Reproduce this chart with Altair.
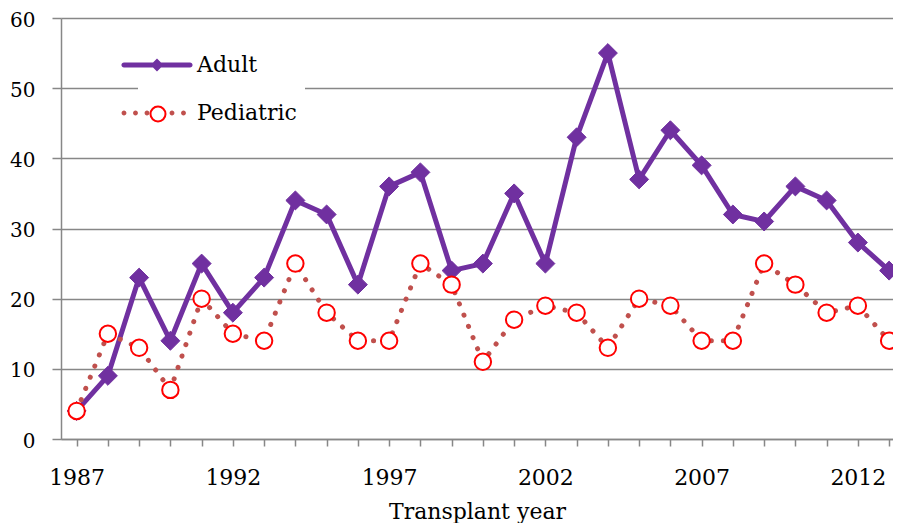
import altair as alt
import pandas as pd

# ---- data ----
years = list(range(1987, 2014))
adult = [4, 9, 23, 14, 25, 18, 23, 34, 32, 22, 36, 38, 24, 25, 35, 25, 43, 55,
         37, 44, 39, 32, 31, 36, 34, 28, 24]
pediatric = [4, 15, 13, 7, 20, 15, 14, 25, 18, 14, 14, 25, 22, 11, 17, 19, 18,
             13, 20, 19, 14, 14, 25, 22, 18, 19, 14]
series_names = ["Adult", "Pediatric"]
marker_keys = ["A", "P"]          # keys of the marker-overlay legend (labels hidden)
x_label_years = [1987, 1992, 1997, 2002, 2007, 2012]
y_ticks = [0, 10, 20, 30, 40, 50, 60]
x_title = "Transplant year"

rows = []
for name, vals in zip(series_names, [adult, pediatric]):
    for yr, v in zip(years, vals):
        rows.append({"year": yr, "value": v, "series": name})
df = pd.DataFrame(rows)

# ---- styling ----
FONT = "DejaVu Serif"
PURPLE = "#7030A0"
PED_LINE = "#C0504D"
PED_MARK = "#FF0000"
GRAY = "#878787"


def circ(cx, r):
    return f"M{cx - r:.3f},0A{r},{r} 0 1,1 {cx + r:.3f},0A{r},{r} 0 1,1 {cx - r:.3f},0Z"


# legend glyphs (unit = 9 px): line sample + marker
ADULT_SYM = ("M-3.67,-0.28L3.67,-0.28A0.28,0.28 0 0,1 3.67,0.28"
             "L-3.67,0.28A0.28,0.28 0 0,1 -3.67,-0.28Z"
             "M0,-0.72L0.72,0L0,0.72L-0.72,0Z")
PED_SYM = "".join(circ(c, 0.27) for c in [-3.667, -2.389, -1.111, 1.667, 2.944])

x_enc = alt.X(
    "year:Q",
    scale=alt.Scale(domain=[1986.5, 2013.124], nice=False, zero=False),
    axis=alt.Axis(
        values=years, format="d",
        labelExpr=f"indexof({x_label_years}, datum.value) >= 0 ? datum.label : ''",
        grid=False, tickSize=7, tickWidth=1.5, tickColor=GRAY,
        domainColor=GRAY, domainWidth=1.5,
        labelPadding=21, labelFlush=False, labelOverlap=False,
        labelFontSize=22, title=x_title, titlePadding=13, titleFontSize=22,
    ),
)
y_enc = alt.Y(
    "value:Q",
    scale=alt.Scale(domain=[0, 60], nice=False),
    axis=alt.Axis(
        values=y_ticks, grid=True, gridColor=GRAY, gridWidth=1.5,
        tickSize=9, tickWidth=1.5, tickColor=GRAY,
        domainColor=GRAY, domainWidth=1.5,
        labelPadding=17, labelFontSize=20, labelOffset=2, title=None,
    ),
)

leg_a = alt.Legend(
    orient="none", legendX=77, legendY=28, title=None,
    symbolSize=324, symbolStrokeWidth=0,
    labelFont=FONT, labelFontSize=22, labelColor="black", labelOffset=29,
    labelLimit=400, rowPadding=26, padding=8, fillColor="white", zindex=1,
)
leg_b = alt.Legend(
    orient="none", legendX=78, legendY=28, title=None,
    symbolType="circle", symbolSize=225, symbolStrokeWidth=2,
    symbolFillColor="white", labelExpr="''",
    labelFont=FONT, labelFontSize=22, labelOffset=0,
    rowPadding=26, padding=8, zindex=2,
)

base = alt.Chart(df)

adult_line = base.transform_filter(alt.datum.series == "Adult").mark_line(
    color=PURPLE, strokeWidth=5, strokeCap="round", strokeJoin="round"
).encode(x=x_enc, y=y_enc)

adult_pts = base.transform_filter(alt.datum.series == "Adult").mark_point(
    shape="diamond", filled=True, color=PURPLE, stroke=PURPLE,
    strokeWidth=1, size=360, opacity=1
).encode(x=x_enc, y=y_enc)

ped_line = base.transform_filter(alt.datum.series == "Pediatric").mark_line(
    color=PED_LINE, strokeWidth=5, strokeDash=[0.1, 12], strokeCap="round"
).encode(x=x_enc, y=y_enc)

ped_pts = base.transform_filter(alt.datum.series == "Pediatric").mark_point(
    shape="circle", filled=True, fill="white", stroke=PED_MARK,
    strokeWidth=2, size=270, opacity=1
).encode(x=x_enc, y=y_enc)

# legend carriers (no rows drawn; legends come from explicit scale domains)
legend_lines = base.transform_filter("false").mark_point(filled=True, opacity=1).encode(
    shape=alt.Shape("series:N", scale=alt.Scale(domain=series_names,
                                                range=[ADULT_SYM, PED_SYM]), legend=leg_a),
    fill=alt.Fill("series:N", scale=alt.Scale(domain=series_names,
                                              range=[PURPLE, PED_LINE]), legend=leg_a),
)
legend_marks = base.transform_filter("false").mark_point(filled=False).encode(
    stroke=alt.Stroke("key:N", scale=alt.Scale(domain=marker_keys,
                                               range=[PED_MARK, PED_MARK]), legend=leg_b),
    opacity=alt.Opacity("key:N", scale=alt.Scale(domain=marker_keys,
                                                 range=[0, 1]), legend=leg_b),
)

chart = alt.layer(
    adult_line, adult_pts, ped_line, ped_pts, legend_lines, legend_marks,
).properties(
    width=832, height=421,
    padding={"left": 53, "top": 10, "right": 0, "bottom": 84},
    autosize=alt.AutoSizeParams(type="none"),
).configure_view(stroke=None).configure_axis(
    labelFont=FONT, titleFont=FONT, labelColor="black", titleColor="black",
    titleFontWeight="normal",
)

chart.save("out.html", embed_options={"renderer": "svg", "actions": False})
